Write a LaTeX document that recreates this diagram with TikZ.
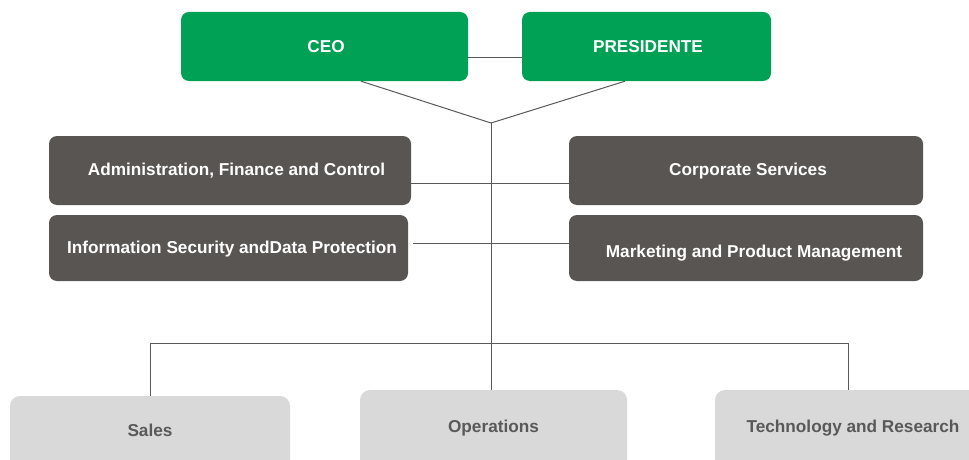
\documentclass[tikz,border=0pt]{standalone}
\usepackage{fontspec}
\setmainfont{Liberation Sans}
\definecolor{ogreen}{HTML}{00A055}
\definecolor{odark}{HTML}{595553}
\definecolor{olight}{HTML}{D9D9D9}
\definecolor{otext}{HTML}{595959}
\definecolor{oline}{HTML}{5A5A5A}
\tikzset{
  box/.style={rectangle, rounded corners=8pt, inner sep=0pt, draw=none},
  greenbox/.style={box, fill=ogreen},
  darkbox/.style={box, fill=odark},
  lightbox/.style={box, fill=olight, rounded corners=10pt},
  wtxt/.style={text=white, font=\fontsize{17.2}{20}\selectfont\bfseries, inner sep=0pt, text depth=0pt},
  gtxt/.style={text=otext, font=\fontsize{17.2}{20}\selectfont\bfseries, inner sep=0pt, text depth=0pt},
  conn/.style={draw=oline, line width=1pt}
}
\begin{document}
\begin{tikzpicture}[x={(1pt,0)}, y={(0,-1pt)}]
\clip (0,0) rectangle (969,460);
\fill[white] (0,0) rectangle (969,460);
% top row
\node[greenbox, minimum width=287pt, minimum height=69pt,
  label={[wtxt, xshift=1.5pt]center:CEO}] (ceo) at (324.5,46.5) {};
\node[greenbox, minimum width=249pt, minimum height=69pt,
  label={[wtxt, xshift=1.5pt]center:PRESIDENTE}] (pres) at (646.5,46.5) {};
% middle boxes
\node[darkbox, minimum width=362pt, minimum height=69pt,
  label={[wtxt, xshift=6.5pt, yshift=1.5pt]center:Administration, Finance and Control}] (adm) at (230,170.5) {};
\node[darkbox, minimum width=354pt, minimum height=69pt,
  label={[wtxt, xshift=2pt, yshift=1.5pt]center:Corporate Services}] (corp) at (746,170.5) {};
\node[darkbox, minimum width=359pt, minimum height=66pt,
  label={[wtxt, xshift=3.5pt, yshift=0.5pt]center:Information Security andData Protection}] (infosec) at (228.5,248) {};
\node[darkbox, minimum width=354pt, minimum height=66pt,
  label={[wtxt, xshift=8pt, yshift=-3pt]center:Marketing and Product Management}] (mkt) at (746,248) {};
% bottom boxes
\node[lightbox, minimum width=280pt, minimum height=80pt,
  label={[gtxt, yshift=6pt]center:Sales}] (sales) at (150,436) {};
\node[lightbox, minimum width=267pt, minimum height=86pt,
  label={[gtxt, yshift=7pt]center:Operations}] (ops) at (493.5,433) {};
\node[lightbox, minimum width=266pt, minimum height=86pt,
  label={[gtxt, xshift=5pt, yshift=7pt]center:Technology and Research}] (tech) at (848,433) {};
% coordinates
\coordinate (j) at (491,123);
\coordinate (bus) at (491,343);
% connectors
\draw[conn] ([yshift=-11.5pt]ceo.east) -- ([yshift=-11.5pt]pres.west);
\draw[conn] ([xshift=36.5pt]ceo.south) -- (j);
\draw[conn] ([xshift=-21.5pt]pres.south) -- (j);
\draw[conn] ([yshift=-12.5pt]adm.east) -- ([yshift=-12.5pt]corp.west);
\draw[conn] ([xshift=5pt,yshift=5pt]infosec.east) -- ([yshift=5pt]mkt.west);
\draw[conn] (j) -- (j |- ops.north);
\draw[conn] (sales.north) -- (sales.north |- bus) -- (tech.north |- bus) -- (tech.north);
\end{tikzpicture}
\end{document}
